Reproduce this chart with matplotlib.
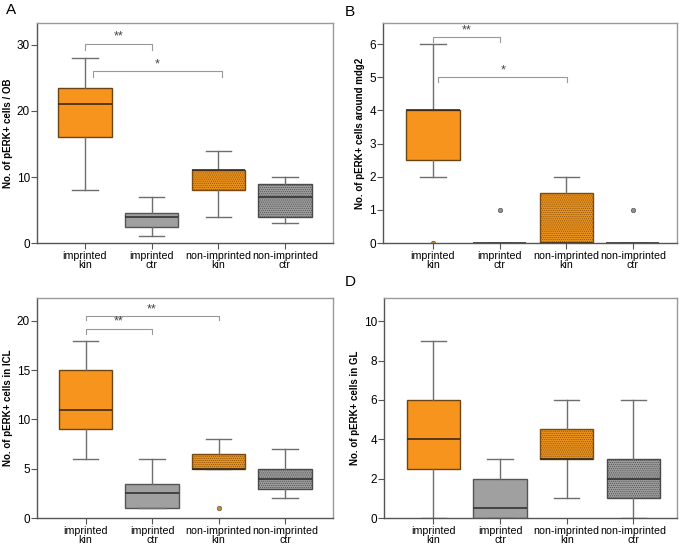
import numpy as np
import matplotlib
matplotlib.use("Agg")
import matplotlib.pyplot as plt

plt.rcParams['font.family'] = ['Liberation Sans', 'DejaVu Sans']
plt.rcParams['hatch.linewidth'] = 0.4

# groups on the x axis
groups = ["imprinted\nkin", "imprinted\nctr", "non-imprinted\nkin", "non-imprinted\nctr"]

# box stats per panel: [whisker low, q1, median, q3, whisker high]
stats_A = [[8, 16, 21, 23.5, 28], [1, 2.5, 4, 4.5, 7], [4, 8, 11, 11, 14], [3, 4, 7, 9, 10]]
stats_B = [[2, 2.5, 4, 4, 6], [0, 0, 0, 0, 0], [0, 0, 0, 1.5, 2], [0, 0, 0, 0, 0]]
stats_C = [[6, 9, 11, 15, 18], [1, 1, 2.5, 3.5, 6], [5, 5, 5, 6.5, 8], [2, 3, 4, 5, 7]]
stats_D = [[0, 2.5, 4, 6, 9], [0, 0, 0.5, 2, 3], [1, 3, 3, 4.5, 6], [0, 1, 2, 3, 6]]

# outliers per panel and group
fliers_A = [[], [], [], []]
fliers_B = [[0], [1], [], [1]]
fliers_C = [[], [], [1], []]
fliers_D = [[], [], [], []]

ylabels = ["No. of pERK+ cells / OB", "No. of pERK+ cells around mdg2",
           "No. of pERK+ cells in ICL", "No. of pERK+ cells in GL"]
ylims = [33.3, 6.63, 22.3, 11.17]
yticks = [[0, 10, 20, 30], [0, 1, 2, 3, 4, 5, 6], [0, 5, 10, 15, 20], [0, 2, 4, 6, 8, 10]]

# significance brackets: (x1, x2, y, drop, label)
sig_A = [(0, 1, 30.2, 1.0, "**"), (0.12, 2.06, 26.0, 0.8, "*")]
sig_B = [(0, 1, 6.21, 0.15, "**"), (0.08, 2.02, 5.0, 0.15, "*")]
sig_C = [(0, 2, 20.5, 0.45, "**"), (0, 1, 19.2, 0.5, "**")]
sig_D = []

face = ["#f7941d", "#a0a0a0", "#e8901c", "#9a9a9a"]
edge = ["#6b4414", "#555555", "#7a4a10", "#4a4a4a"]
hatch = [None, None, "........", "........"]
flier_col = ["#d88a20", "#909090", "#d88a20", "#909090"]

fig = plt.figure(figsize=(6.85, 5.5), dpi=100)
rects = [[0.054, 0.558, 0.432, 0.400], [0.559, 0.558, 0.429, 0.400],
         [0.054, 0.058, 0.432, 0.400], [0.561, 0.058, 0.428, 0.400]]
xlims = [(-0.72, 3.72), (-0.75, 3.66), (-0.73, 3.72), (-0.735, 3.66)]
letters = [("A", 0.008, 0.982), ("B", 0.503, 0.978), (None, 0, 0), ("D", 0.503, 0.487)]

panels = [(stats_A, fliers_A, sig_A), (stats_B, fliers_B, sig_B),
          (stats_C, fliers_C, sig_C), (stats_D, fliers_D, sig_D)]

for i, (stats, fliers, sigs) in enumerate(panels):
    ax = fig.add_axes(rects[i])
    bxp_stats = []
    for s, f in zip(stats, fliers):
        bxp_stats.append(dict(whislo=s[0], q1=s[1], med=s[2], q3=s[3], whishi=s[4], fliers=f))
    res = ax.bxp(bxp_stats, positions=range(4), widths=0.8, capwidths=0.38,
                 patch_artist=True, showfliers=True)
    for j, b in enumerate(res['boxes']):
        b.set_facecolor(face[j])
        b.set_edgecolor(edge[j])
        b.set_linewidth(1.0)
        if hatch[j]:
            b.set_hatch(hatch[j])
    for j, m in enumerate(res['medians']):
        m.set_color("#3a2a1a" if j in (0, 2) else "#333333")
        m.set_linewidth(1.2)
    for w in res['whiskers']:
        w.set_color("#6e6e6e")
        w.set_linewidth(1.0)
    for c in res['caps']:
        c.set_color("#6e6e6e")
        c.set_linewidth(1.0)
    for j, fl in enumerate(res['fliers']):
        fl.set_marker('o')
        fl.set_markersize(3.2)
        fl.set_markerfacecolor(flier_col[j])
        fl.set_markeredgecolor("#5a5a5a")
        fl.set_markeredgewidth(0.5)

    for x1, x2, y, d, lab in sigs:
        ax.plot([x1, x1, x2, x2], [y - d, y, y, y - d], color="#999999", lw=0.8)
        ax.text((x1 + x2) / 2, y + ylims[i] * 0.004, lab, ha='center', va='bottom',
                fontsize=9, color="#444444")

    ax.set_xlim(*xlims[i])
    ax.set_ylim(0, ylims[i])
    ax.set_yticks(yticks[i])
    ax.set_xticks(range(4))
    ax.set_xticklabels(groups, fontsize=7.7, linespacing=0.85)
    ax.tick_params(axis='y', labelsize=8.5, length=4, color="#555555", pad=1)
    ax.tick_params(axis='x', length=4, color="#555555", pad=2)
    ax.set_ylabel(ylabels[i], fontsize=7, fontweight='bold', labelpad=3)
    for name, sp in ax.spines.items():
        sp.set_color("#9a9a9a")
        sp.set_linewidth(1.0)
    ax.spines['left'].set_color("#555555")
    ax.spines['bottom'].set_color("#555555")

    lt, lx, ly = letters[i]
    if lt:
        fig.text(lx, ly, lt, fontsize=11, ha='left', va='center')

fig.savefig("out.png", dpi=100)
